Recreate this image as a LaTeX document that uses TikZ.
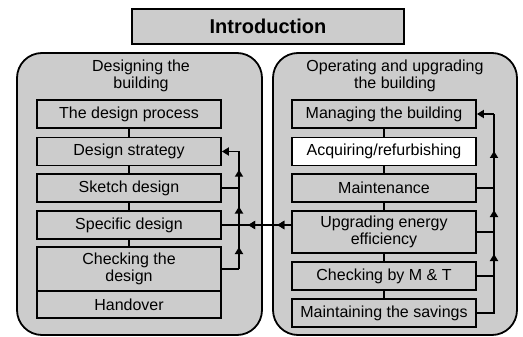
\documentclass[tikz,border=0pt]{standalone}
\usepackage{fontspec}
\setmainfont{Liberation Sans}
\usetikzlibrary{arrows.meta,decorations.markings}

\begin{document}
\begin{tikzpicture}[x=1pt,y=-1pt,line width=1.8pt,
  box/.style={draw,fill=gray!40,minimum width=184pt,minimum height=28pt,
    inner sep=0pt,align=center,font=\fontsize{16}{17}\selectfont},
  panel/.style={draw,fill=gray!40,rounded corners=25pt},
  title/.style={align=center,font=\fontsize{16}{17}\selectfont},
  feedtip/.style={-{Triangle[length=7pt,width=8pt]}},
  midtip/.style={postaction={decorate},decoration={markings,
    mark=at position #1 with {\arrow{Triangle[length=7pt,width=8pt]}}}},
  midtip/.default=0.5]

\useasboundingbox (0,0) rectangle (523,337);

% header
\node[box,minimum width=272pt,minimum height=35pt,
      font=\fontsize{20}{22}\selectfont\bfseries] (intro) at (268,26.5) {Introduction};

% the two rounded panels
\draw[panel] (17,53) rectangle (262,335);
\draw[panel] (273,53) rectangle (517,335);
\node[title] (design) at (141,75.5) {Designing the\\building};
\node[title] (operate) at (395,75.5) {Operating and upgrading\\the building};

% left column
\node[box] (process)  at (129,114)   {The design process};
\node[box] (strategy) at (129,151.5) {Design strategy};
\node[box] (sketch)   at (129,188)   {Sketch design};
\node[box] (specific) at (129,225)   {Specific design};
\node[box,minimum height=44pt] (checking) at (129,269) {Checking the\\design};
\node[box,minimum height=27pt] (handover) at (129,304.5) {Handover};

% right column
\node[box] (managing)  at (384,114)   {Managing the building};
\node[box,fill=white] (acquiring) at (384,151.5) {Acquiring/refurbishing};
\node[box] (maint)     at (384,188)   {Maintenance};
\node[box,minimum height=42pt] (upgrading) at (384,232) {Upgrading energy\\efficiency};
\node[box] (checkmt)   at (384,276)   {Checking by M \& T};
\node[box] (savings)   at (384,313)   {Maintaining the savings};

% links down each column
\draw (process) -- (strategy) -- (sketch) -- (specific) -- (checking);
\draw (managing) -- (acquiring) -- (maint) -- (upgrading) -- (checkmt) -- (savings);

% feedback on the left
\coordinate (lx) at (239,0);
\draw (sketch.east) -- (sketch.east -| lx);
\draw (checking.east) -- (checking.east -| lx);
\draw[midtip] (checking.east -| lx) -- (specific.east -| lx);
\draw[midtip] (specific.east -| lx) -- (sketch.east -| lx);
\draw[midtip] (sketch.east -| lx) -- (strategy.east -| lx);
\draw[feedtip] (strategy.east -| lx) -- (strategy.east);

% feedback on the right
\coordinate (rx) at (494,0);
\draw (maint.east) -- (maint.east -| rx);
\draw (upgrading.east) -- (upgrading.east -| rx);
\draw (checkmt.east) -- (checkmt.east -| rx);
\draw (savings.east) -- (savings.east -| rx) -- (checkmt.east -| rx);
\draw[midtip] (checkmt.east -| rx) -- (upgrading.east -| rx);
\draw[midtip] (upgrading.east -| rx) -- (maint.east -| rx);
\draw[midtip] (maint.east -| rx) -- (managing.east -| rx);
\draw[feedtip] (managing.east -| rx) -- (managing.east);

% upgrading feeds back into the design
\draw[midtip=0.2,midtip=0.62] (upgrading.west |- specific.east) -- (specific.east);

\end{tikzpicture}
\end{document}
